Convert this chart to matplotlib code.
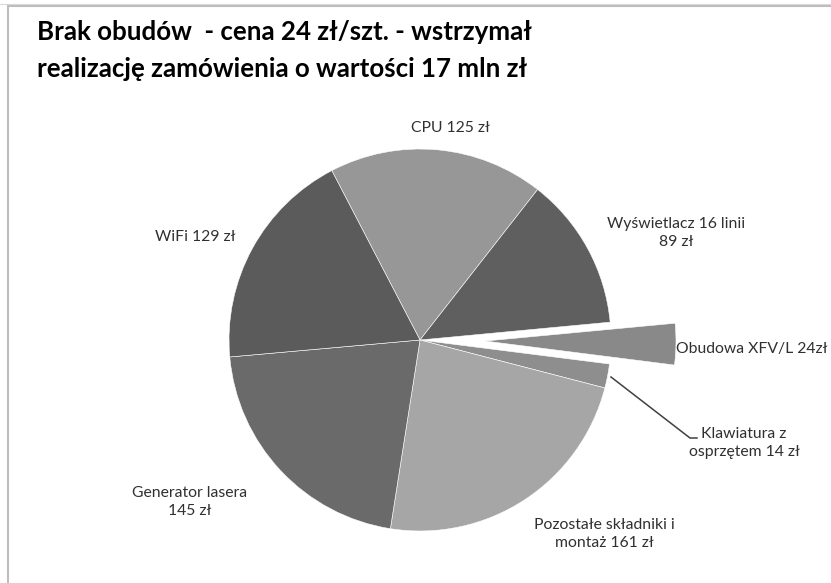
import matplotlib
matplotlib.use("Agg")
import matplotlib.pyplot as plt
from matplotlib.lines import Line2D

plt.rcParams['font.family'] = ['Lato', 'DejaVu Sans']

# slices, clockwise starting from CPU
labels = ["CPU 125 zł", "Wyświetlacz 16 linii\n89 zł", "Obudowa XFV/L 24zł",
          "Klawiatura z\nosprzętem 14 zł", "Pozostałe składniki i\nmontaż 161 zł",
          "Generator lasera\n145 zł", "WiFi 129 zł"]
values = [125, 89, 24, 14, 161, 145, 129]
colors = ["#979797", "#5f5f5f", "#898989", "#8e8e8e", "#a6a6a6", "#6a6a6a", "#5b5b5b"]

title1 = "Brak obudów  - cena 24 zł/szt. - wstrzymał"
title2 = "realizację zamówienia o wartości 17 mln zł"

W, H = 831, 583
fig = plt.figure(figsize=(W / 100, H / 100), dpi=100)
ax = fig.add_axes([0, 0, 1, 1])

def Y(py):  # pixel row -> data y
    return H - py

cx, cy, r = 420, Y(340), 191
explode = [65 if v == 24 else 0 for v in values]
ax.pie(values, colors=colors, startangle=117.5, counterclock=False,
       center=(cx, cy), radius=r, explode=explode, frame=True,
       wedgeprops=dict(edgecolor='white', linewidth=0.4))
ax.set_xlim(0, W)
ax.set_ylim(0, H)
ax.set_aspect('equal')
ax.axis('off')

# label positions (pixels)
lab_pos = [(450, 128), (676, 233), (752, 349), (744, 443), (604, 534), (190, 502), (195, 237)]
for lab, (px, py) in zip(labels, lab_pos):
    ax.text(px, Y(py), lab, ha='center', va='center', fontsize=11.3,
            color='#303030', linespacing=1.3)

# leader line for Klawiatura
ax.add_line(Line2D([611, 690, 697], [Y(377), Y(438), Y(438)], color='#404040', lw=1.1))

# chart frame (Excel border)
ax.add_line(Line2D([7.5, 7.5], [0, Y(5.5)], color='#bdbdbd', lw=1.5))
ax.add_line(Line2D([7.5, W], [Y(5.5), Y(5.5)], color='#bdbdbd', lw=1.5))
ax.add_line(Line2D([0, W], [Y(3.5), Y(3.5)], color='#d9d9d9', lw=0.8))

fig.text(37 / W, 1 - 40 / H, title1, ha='left', va='baseline', fontsize=18.6,
         fontweight='bold', color='black')
fig.text(37 / W, 1 - 77 / H, title2, ha='left', va='baseline', fontsize=18.6,
         fontweight='bold', color='black')

fig.savefig("out.png", dpi=100, facecolor='white')
